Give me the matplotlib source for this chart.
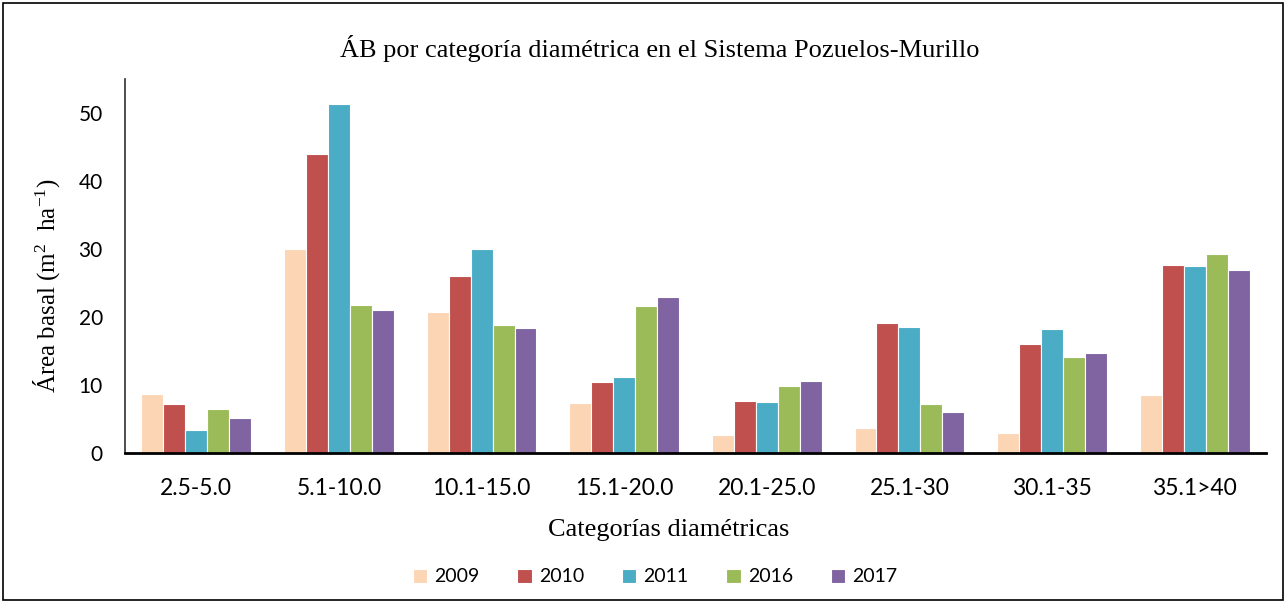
import numpy as np
import matplotlib
matplotlib.use('Agg')
from matplotlib import pyplot as plt
from matplotlib.patches import Rectangle

# Data
categories = ['2.5-5.0', '5.1-10.0', '10.1-15.0', '15.1-20.0',
              '20.1-25.0', '25.1-30', '30.1-35', '35.1>40']
years = ['2009', '2010', '2011', '2016', '2017']
v2009 = [8.7, 30.0, 20.8, 7.3, 2.6, 3.7, 2.9, 8.5]
v2010 = [7.2, 44.0, 26.0, 10.4, 7.7, 19.1, 16.0, 27.6]
v2011 = [3.4, 51.3, 30.0, 11.2, 7.5, 18.5, 18.3, 27.5]
v2016 = [6.4, 21.8, 18.8, 21.6, 9.8, 7.2, 14.1, 29.2]
v2017 = [5.2, 21.1, 18.4, 22.9, 10.6, 6.1, 14.7, 26.9]
colors = ['#FCD5B5', '#C0504D', '#4BACC6', '#9BBB59', '#8064A2']

series = [v2009, v2010, v2011, v2016, v2017]

serif = 'Liberation Serif'
plt.rcParams['mathtext.fontset'] = 'custom'
plt.rcParams['mathtext.rm'] = serif
plt.rcParams['mathtext.it'] = serif + ':italic'

W, H = 1286, 603
fig = plt.figure(figsize=(W/100, H/100), dpi=100)
ax = fig.add_axes([125/W, 1 - 453/H, (1266-125)/W, (453-79)/H])

x = np.arange(len(categories))
w = 0.154
for i, (vals, yr, c) in enumerate(zip(series, years, colors)):
    ax.bar(x + (i - 2) * w, vals, w, color=c, edgecolor='white',
           linewidth=0.8, label=yr, zorder=2)

ax.set_xlim(-0.5, len(categories) - 0.5)
ax.set_ylim(0, 55)
ax.set_yticks([0, 10, 20, 30, 40, 50])
ax.set_xticks(x)
ax.set_xticklabels(categories)
ax.tick_params(length=0)
ax.tick_params(axis='y', pad=16, labelsize=15)
ax.tick_params(axis='x', pad=18, labelsize=16.5)
for lab in ax.get_xticklabels() + ax.get_yticklabels():
    lab.set_family('Lato')

for s in ['top', 'right']:
    ax.spines[s].set_visible(False)
ax.spines['left'].set_linewidth(1.2)
ax.spines['left'].set_color('#303030')
ax.spines['bottom'].set_linewidth(2)
ax.spines['bottom'].set_zorder(3)

fig.text(660/W, 1 - 49/H, 'ÁB por categoría diamétrica en el Sistema Pozuelos-Murillo',
         ha='center', va='center', fontsize=19, family=serif)
fig.text(47/W, 1 - 286/H, r'Área basal (m$^{2}$  ha$^{\mathrm{-1}}$)',
         ha='center', va='center', rotation=90, fontsize=18, family=serif)
fig.text(669/W, 1 - 530/H, 'Categorías diamétricas',
         ha='center', va='center', fontsize=19, family=serif)

leg = fig.legend(loc='center', bbox_to_anchor=(655/W, 1 - 577/H), ncol=5,
                 frameon=False, prop={'family': 'Lato', 'size': 14},
                 handlelength=0.75, handleheight=0.75, columnspacing=1.95, handletextpad=0.35)

fig.patches.append(Rectangle((3/W, 3/H), 1280/W, 597/H, transform=fig.transFigure,
                             fill=False, edgecolor='black', linewidth=1.2))

plt.savefig('out.png', dpi=100)
